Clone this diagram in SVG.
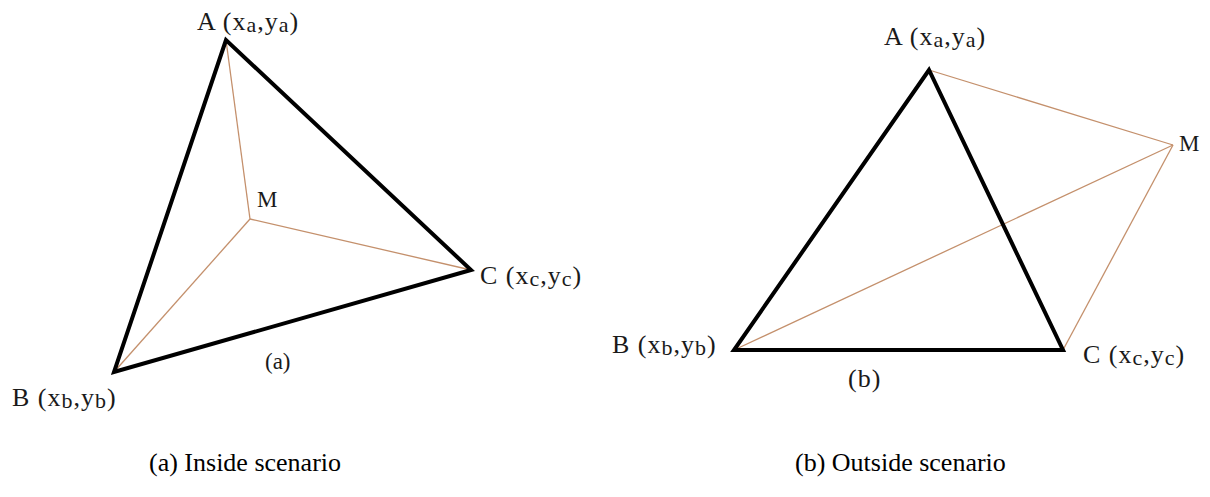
<svg xmlns="http://www.w3.org/2000/svg" width="1210" height="497" viewBox="0 0 1210 497">
<style>
.tri{fill:none;stroke:#000;stroke-width:4;stroke-linejoin:miter}
.br{stroke:#c4906c;stroke-width:1.3;fill:none}
.lb{font-family:"Liberation Serif",serif;font-size:26px;letter-spacing:1px;fill:#1a1a1a}
.sub{font-size:22px}
.cap{font-family:"Liberation Serif",serif;font-size:26px;fill:#000}
.sm{font-family:"Liberation Serif",serif;font-size:23px;fill:#1a1a1a}
</style>
<rect width="1210" height="497" fill="#fff"/>
<g id="connectors">
<line class="br" x1="226" y1="40" x2="250" y2="219"/>
<line class="br" x1="114" y1="372" x2="250" y2="219"/>
<line class="br" x1="471" y1="270" x2="250" y2="219"/>
<line class="br" x1="929" y1="70" x2="1173" y2="145"/>
<line class="br" x1="734" y1="350" x2="1173" y2="145"/>
<line class="br" x1="1063" y1="350" x2="1173" y2="145"/>
</g>
<g id="triangle-a"><polygon class="tri" points="226,40 114,372 471,270"/></g>
<g id="triangle-b"><polygon class="tri" points="929,70 734,350 1063,350"/></g>
<g id="A-a"><text class="lb" x="197" y="30">A (x<tspan class="sub" dy="2">a</tspan><tspan dy="-2">,y</tspan><tspan class="sub" dy="2">a</tspan><tspan dy="-2">)</tspan></text></g>
<g id="B-a"><text class="lb" x="12" y="406">B (x<tspan class="sub" dy="2">b</tspan><tspan dy="-2">,y</tspan><tspan class="sub" dy="2">b</tspan><tspan dy="-2">)</tspan></text></g>
<g id="C-a"><text class="lb" x="480" y="284">C (x<tspan class="sub" dy="2">c</tspan><tspan dy="-2">,y</tspan><tspan class="sub" dy="2">c</tspan><tspan dy="-2">)</tspan></text></g>
<g id="M-a"><text class="sm" x="257" y="207">M</text></g>
<text class="sm" x="265" y="369">(a)</text>
<g id="A-b"><text class="lb" x="884" y="45">A (x<tspan class="sub" dy="2">a</tspan><tspan dy="-2">,y</tspan><tspan class="sub" dy="2">a</tspan><tspan dy="-2">)</tspan></text></g>
<g id="B-b"><text class="lb" x="612" y="353">B (x<tspan class="sub" dy="2">b</tspan><tspan dy="-2">,y</tspan><tspan class="sub" dy="2">b</tspan><tspan dy="-2">)</tspan></text></g>
<g id="C-b"><text class="lb" x="1083" y="363">C (x<tspan class="sub" dy="2">c</tspan><tspan dy="-2">,y</tspan><tspan class="sub" dy="2">c</tspan><tspan dy="-2">)</tspan></text></g>
<g id="M-b"><text class="sm" x="1179" y="151">M</text></g>
<text class="lb" x="848" y="387">(b)</text>
<text class="cap" x="149" y="471">(a) Inside scenario</text>
<text class="cap" x="795" y="471">(b) Outside scenario</text>
</svg>
